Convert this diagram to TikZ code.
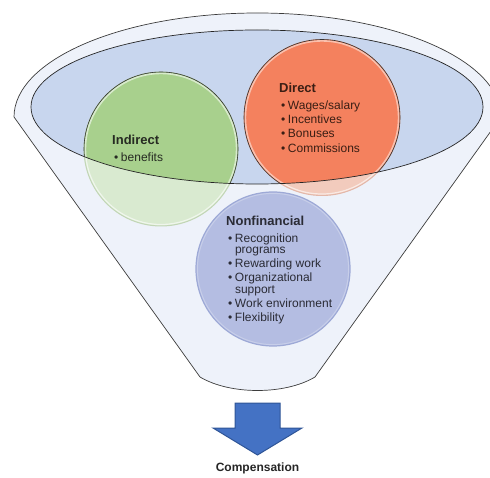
\documentclass[tikz,border=0pt]{standalone}
\usepackage{fontspec}
\setmainfont{Liberation Sans}
\usepackage{array}

\definecolor{funnelfill}{HTML}{EEF2FA}
\definecolor{funnelline}{HTML}{3C3C3C}
\definecolor{mouthfill}{HTML}{C8D6EE}
\definecolor{indstrong}{HTML}{A8D08D}
\definecolor{indpale}{HTML}{D9EAD0}
\definecolor{indedge}{HTML}{C2D6B6}
\definecolor{dirstrong}{HTML}{F4815E}
\definecolor{dirpale}{HTML}{F2CBBD}
\definecolor{diredge}{HTML}{E3B7A8}
\definecolor{nonfill}{HTML}{B4BDE2}
\definecolor{nonedge}{HTML}{9DA9D6}
\definecolor{arrowfill}{HTML}{4472C4}
\definecolor{arrowedge}{HTML}{2F5597}
\definecolor{indtext}{HTML}{262A22}
\definecolor{dirtext}{HTML}{3A1E14}
\definecolor{nontext}{HTML}{2A2B35}

% bullet column and header row of the circle lists
\newcommand{\bul}{\hspace{2pt}\textbullet}
\newcommand{\hdr}[1]{\multicolumn{2}{@{}l@{}}{\fontsize{13}{14.2}\selectfont\bfseries #1}}

\tikzset{
  funnel/.style={fill=funnelfill, draw=funnelline, line width=0.7pt},
  mouth/.style={fill=mouthfill},
  mouthedge/.style={draw=black!85, line width=0.7pt},
  ringedge/.style={draw=black!80, line width=0.6pt},
  listtext/.style={anchor=base west, inner sep=0pt,
    font=\fontsize{12}{14.2}\selectfont},
  bigarrow/.style={fill=arrowfill, draw=arrowedge, line width=1pt, line join=miter},
}

\begin{document}
\begin{tikzpicture}[x=1pt,y=1pt]
\useasboundingbox (0,0) rectangle (490,477);
\clip (0,0) rectangle (490,477);

% funnel body
\path[funnel] (14,360)
  arc[start angle=180, end angle=0, x radius=243.5, y radius=104]
  -- (315,100) .. controls (285,82) and (230,82) .. (200,100) -- cycle;

% funnel mouth
\coordinate (mouth) at (257,370);
\fill[mouth] (mouth) ellipse[x radius=226, y radius=77];

% circle centres
\coordinate (ind) at (161,328);
\coordinate (dir) at (322,359.5);
\coordinate (non) at (273,208);

% pale lower parts of the two upper circles
\fill[indpale, draw=indedge, line width=1pt] (ind) circle[radius=77];
\draw[white, opacity=0.6, line width=1.2pt] (ind) circle[radius=75.5];
\fill[dirpale, draw=diredge, line width=1pt] (dir) circle[radius=78];
\draw[white, opacity=0.6, line width=1.2pt] (dir) circle[radius=76.5];

% saturated parts inside the mouth
\begin{scope}
  \clip (mouth) ellipse[x radius=226, y radius=77];
  \fill[indstrong] (ind) circle[radius=77];
  \draw[white!55!indstrong, line width=1.6pt] (ind) circle[radius=75.6];
  \draw[ringedge] (ind) circle[radius=77];
  \fill[dirstrong] (dir) circle[radius=78];
  \draw[white!50!dirstrong, line width=1.6pt] (dir) circle[radius=76.6];
  \draw[ringedge] (dir) circle[radius=78];
\end{scope}
\draw[mouthedge] (mouth) ellipse[x radius=226, y radius=77];

% nonfinancial circle
\fill[nonfill, draw=nonedge, line width=1.2pt] (non) circle[radius=77];
\draw[white!25!nonfill, line width=1pt] (non) circle[radius=75.6];

% circle texts
\node[listtext, text=indtext] (indtxt) at (112,332.7) {%
  \begin{tabular}[t]{@{}l@{\hspace{2.6pt}}l@{}}
  \hdr{Indirect}\\[3pt]
  \bul & benefits
  \end{tabular}};

\node[listtext, text=dirtext] (dirtxt) at (279,384.7) {%
  \begin{tabular}[t]{@{}l@{\hspace{2.6pt}}l@{}}
  \hdr{Direct}\\[3pt]
  \bul & Wages/salary\\
  \bul & Incentives\\
  \bul & Bonuses\\
  \bul & Commissions
  \end{tabular}};

\node[listtext, text=nontext] (nontxt) at (226,251.3) {%
  \begin{tabular}[t]{@{}l@{\hspace{2.6pt}}l@{}}
  \hdr{Nonfinancial}\\[2.3pt]
  \bul & Recognition\\[-2.8pt]
       & programs\\
  \bul & Rewarding work\\
  \bul & Organizational\\[-2.8pt]
       & support\\
  \bul & Work environment\\
  \bul & Flexibility
  \end{tabular}};

% output arrow and label
\path[bigarrow] (235,74) -- (280,74) -- (280,49) -- (302,49)
  -- (257.5,22) -- (213,49) -- (235,49) -- cycle;
\node[inner sep=0pt, font=\fontsize{12}{14}\selectfont\bfseries, text=black!85]
  (comp) at (257.5,9) {Compensation};
\end{tikzpicture}
\end{document}
